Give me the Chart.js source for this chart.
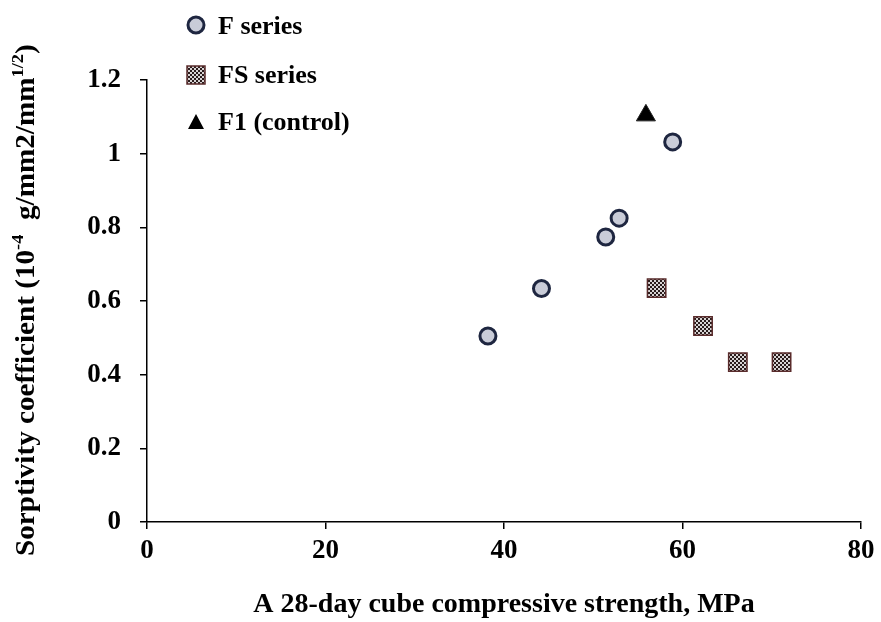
<!DOCTYPE html>
<html>
<head>
<meta charset="utf-8">
<script src="https://cdn.jsdelivr.net/npm/chart.js@4"></script>
<style>
  html, body { margin: 0; padding: 0; background: #fff; }
  #wrap { width: 881px; height: 622px; }
</style>
</head>
<body>
<div id="wrap"><canvas id="sorp"></canvas></div>
<script>
// F series (circles)
const fStrength = [38.2, 44.2, 51.4, 52.9, 58.9];
const fSorp = [0.505, 0.634, 0.774, 0.825, 1.032];
// FS series (squares)
const fsStrength = [57.1, 62.3, 66.2, 71.1];
const fsSorp = [0.635, 0.532, 0.434, 0.434];
// F1 control (triangle)
const ctrlStrength = [55.9];
const ctrlSorp = [1.104];

const xTicks = [0, 20, 40, 60, 80];
const yTicks = [0, 0.2, 0.4, 0.6, 0.8, 1, 1.2];

const serif = "'Liberation Serif', 'Times New Roman', serif";

function toPoints(xs, ys) {
    return xs.map((x, i) => ({ x: x, y: ys[i] }));
}

// checker pattern for the FS squares
function checker() {
    const c = document.createElement('canvas');
    c.width = 4; c.height = 4;
    const g = c.getContext('2d');
    g.fillStyle = '#d8d4d4';
    g.fillRect(0, 0, 4, 4);
    g.fillStyle = '#2a1c1c';
    g.fillRect(0, 0, 2, 2);
    g.fillRect(2, 2, 2, 2);
    return g.createPattern(c, 'repeat');
}
const fsFill = checker();

// y-axis title with superscripts, legend at top left
const extras = {
    id: 'extras',
    afterDraw(chart) {
        const ctx = chart.ctx;
        ctx.save();
        ctx.fillStyle = '#000';
        ctx.translate(34, 556);
        ctx.rotate(-Math.PI / 2);
        ctx.scale(1.08, 1);
        ctx.textBaseline = 'alphabetic';
        ctx.textAlign = 'left';
        const big = 'bold 27px ' + serif;
        const small = 'bold 17px ' + serif;
        const parts = [
            ['Sorptivity coefficient (10', big, 0],
            ['-4', small, -11],
            ['  g/mm2/mm', big, 0],
            ['1/2', small, -11],
            [')', big, 0]
        ];
        let x = 0;
        parts.forEach(p => {
            ctx.font = p[1];
            ctx.fillText(p[0], x, p[2]);
            x += ctx.measureText(p[0]).width;
        });
        ctx.restore();

        // legend
        ctx.save();
        ctx.font = 'bold 26px ' + serif;
        ctx.textBaseline = 'middle';
        const lx = 196;
        ctx.beginPath();
        ctx.arc(lx, 25, 8, 0, Math.PI * 2);
        ctx.fillStyle = '#c9ccd8';
        ctx.fill();
        ctx.lineWidth = 3;
        ctx.strokeStyle = '#1e2640';
        ctx.stroke();
        ctx.fillStyle = fsFill;
        ctx.fillRect(lx - 9, 66, 18, 18);
        ctx.lineWidth = 1.5;
        ctx.strokeStyle = '#5a2c2c';
        ctx.strokeRect(lx - 9, 66, 18, 18);
        ctx.beginPath();
        ctx.moveTo(lx, 114);
        ctx.lineTo(lx + 8, 129);
        ctx.lineTo(lx - 8, 129);
        ctx.closePath();
        ctx.fillStyle = '#000';
        ctx.fill();
        ctx.fillText('F series', 218, 27);
        ctx.fillText('FS series', 218, 76);
        ctx.fillText('F1 (control)', 218, 123);
        ctx.restore();
    }
};

new Chart(document.getElementById('sorp'), {
    type: 'scatter',
    data: {
        datasets: [{
            label: 'F series',
            data: toPoints(fStrength, fSorp),
            pointStyle: 'circle',
            pointRadius: 8,
            pointHoverRadius: 8,
            backgroundColor: '#c9ccd8',
            borderColor: '#1e2640',
            borderWidth: 3
        },
        {
            label: 'FS series',
            data: toPoints(fsStrength, fsSorp),
            pointStyle: 'rect',
            pointRadius: 13,
            pointHoverRadius: 13,
            backgroundColor: fsFill,
            borderColor: '#5a2c2c',
            borderWidth: 1.5
        },
        {
            label: 'F1 (control)',
            data: toPoints(ctrlStrength, ctrlSorp),
            pointStyle: 'triangle',
            pointRadius: 11,
            pointHoverRadius: 11,
            backgroundColor: '#000',
            borderColor: '#222',
            borderWidth: 1
        }]
    },
    options: {
        responsive: true,
        maintainAspectRatio: false,
        animation: false,
        layout: { padding: { top: 80, right: 20, left: 0, bottom: 0 } },
        scales: {
            x: {
                type: 'linear',
                min: 0,
                max: 80,
                afterBuildTicks: s => { s.ticks = xTicks.map(v => ({ value: v })); },
                afterFit: s => { s.height = 100; },
                grid: { drawOnChartArea: false, drawTicks: true, tickLength: 7, color: '#000', lineWidth: 1.5 },
                border: { color: '#000', width: 1.5 },
                ticks: {
                    color: '#000', padding: 6,
                    font: { family: serif, size: 27, weight: 'bold' },
                    callback: v => String(v)
                },
                title: {
                    display: true,
                    text: 'A 28-day cube compressive strength, MPa',
                    color: '#000',
                    padding: { top: 0, bottom: 0 },
                    font: { family: serif, size: 28, weight: 'bold' }
                }
            },
            y: {
                type: 'linear',
                min: 0,
                max: 1.2,
                afterBuildTicks: s => { s.ticks = yTicks.map(v => ({ value: v })); },
                afterFit: s => { s.width = 147; },
                grid: { drawOnChartArea: false, drawTicks: true, tickLength: 7, color: '#000', lineWidth: 1.5 },
                border: { color: '#000', width: 1.5 },
                ticks: {
                    color: '#000', padding: 19,
                    font: { family: serif, size: 27, weight: 'bold' },
                    callback: v => String(Number(v.toFixed(1)))
                }
            }
        },
        plugins: {
            legend: { display: false },
            tooltip: { enabled: false }
        }
    },
    plugins: [extras]
});
</script>
</body>
</html>
